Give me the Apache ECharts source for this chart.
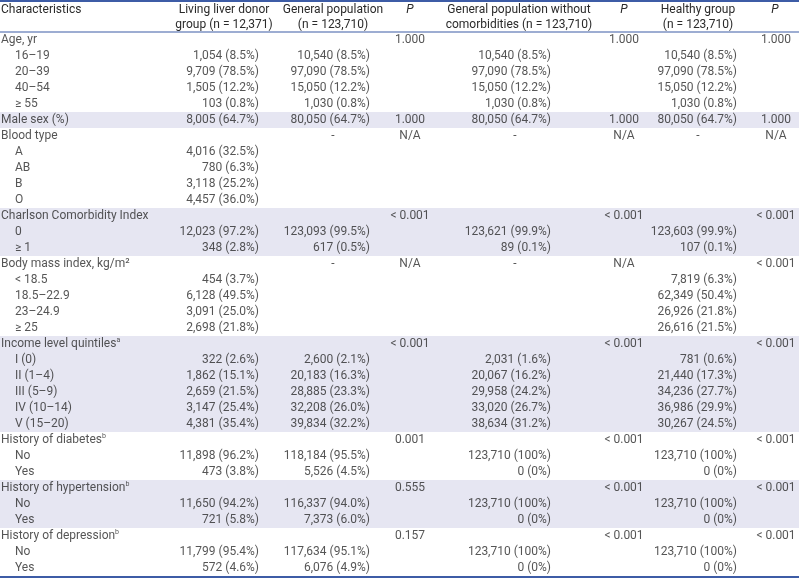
<!DOCTYPE html>
<html><head><meta charset="utf-8">
<script src="https://cdn.jsdelivr.net/npm/echarts@6/dist/echarts.min.js"></script>
<style>html,body{margin:0;padding:0;background:#fff}#c{width:799px;height:578px}</style>
</head><body><div id="c"></div>
<script>
// ---- data ----
const rowLabels = ['Age, yr','16–19','20–39','40–54','≥ 55','Male sex (%)','Blood type','A','AB','B','O',
  'Charlson Comorbidity Index','0','≥ 1','Body mass index, kg/m²','< 18.5','18.5–22.9','23–24.9','≥ 25',
  'Income level quintiles','I (0)','II (1–4)','III (5–9)','IV (10–14)','V (15–20)',
  'History of diabetes','No','Yes','History of hypertension','No','Yes','History of depression','No','Yes'];
const rowNotes = ['','','','','','','','','','','','','','','','','','','','a','','','','','','b','','','b','','','b','',''];
const rowLevel = [0,1,1,1,1,0,0,1,1,1,1,0,1,1,0,1,1,1,1,0,1,1,1,1,1,0,1,1,0,1,1,0,1,1];
const shadedGroups = [5,11,12,13,19,20,21,22,23,24,28,29,30];

const donor = ['','1,054 (8.5%)','9,709 (78.5%)','1,505 (12.2%)','103 (0.8%)','8,005 (64.7%)','','4,016 (32.5%)','780 (6.3%)','3,118 (25.2%)','4,457 (36.0%)',
  '','12,023 (97.2%)','348 (2.8%)','','454 (3.7%)','6,128 (49.5%)','3,091 (25.0%)','2,698 (21.8%)',
  '','322 (2.6%)','1,862 (15.1%)','2,659 (21.5%)','3,147 (25.4%)','4,381 (35.4%)',
  '','11,898 (96.2%)','473 (3.8%)','','11,650 (94.2%)','721 (5.8%)','','11,799 (95.4%)','572 (4.6%)'];
const general = ['','10,540 (8.5%)','97,090 (78.5%)','15,050 (12.2%)','1,030 (0.8%)','80,050 (64.7%)','-','','','','',
  '','123,093 (99.5%)','617 (0.5%)','-','','','','',
  '','2,600 (2.1%)','20,183 (16.3%)','28,885 (23.3%)','32,208 (26.0%)','39,834 (32.2%)',
  '','118,184 (95.5%)','5,526 (4.5%)','','116,337 (94.0%)','7,373 (6.0%)','','117,634 (95.1%)','6,076 (4.9%)'];
const pGeneral = ['1.000','','','','','1.000','N/A','','','','','< 0.001','','','N/A','','','','',
  '< 0.001','','','','','','0.001','','','0.555','','','0.157','',''];
const noComorb = ['','10,540 (8.5%)','97,090 (78.5%)','15,050 (12.2%)','1,030 (0.8%)','80,050 (64.7%)','-','','','','',
  '','123,621 (99.9%)','89 (0.1%)','-','','','','',
  '','2,031 (1.6%)','20,067 (16.2%)','29,958 (24.2%)','33,020 (26.7%)','38,634 (31.2%)',
  '','123,710 (100%)','0 (0%)','','123,710 (100%)','0 (0%)','','123,710 (100%)','0 (0%)'];
const pNoComorb = ['1.000','','','','','1.000','N/A','','','','','< 0.001','','','N/A','','','','',
  '< 0.001','','','','','','< 0.001','','','< 0.001','','','< 0.001','',''];
const healthy = ['','10,540 (8.5%)','97,090 (78.5%)','15,050 (12.2%)','1,030 (0.8%)','80,050 (64.7%)','-','','','','',
  '','123,603 (99.9%)','107 (0.1%)','','7,819 (6.3%)','62,349 (50.4%)','26,926 (21.8%)','26,616 (21.5%)',
  '','781 (0.6%)','21,440 (17.3%)','34,236 (27.7%)','36,986 (29.9%)','30,267 (24.5%)',
  '','123,710 (100%)','0 (0%)','','123,710 (100%)','0 (0%)','','123,710 (100%)','0 (0%)'];
const pHealthy = ['1.000','','','','','1.000','N/A','','','','','< 0.001','','','< 0.001','','','','',
  '< 0.001','','','','','','< 0.001','','','< 0.001','','','< 0.001','',''];

const headers = ['Characteristics','Living liver donor\ngroup (n = 12,371)','General population\n(n = 123,710)','P',
  'General population without\ncomorbidities (n = 123,710)','P','Healthy group\n(n = 123,710)','P'];

// ---- layout ----
const W = 799, H = 578;
const FONT = 'Roboto, "Noto Sans", sans-serif';
const FS = 12;
const TXT = '#2a2a2a';
const BLUE = '#3d5ca6';
const SHADE = '#e6e6f2';
const GRID_TOP = 32, GRID_BOTTOM = 576;

const cols = [
  {data: donor,   right: 259, center: 224},
  {data: general, right: 370, center: 333},
  {data: pGeneral, right: null, center: 410},
  {data: noComorb, right: 551, center: 515},
  {data: pNoComorb, right: null, center: 624},
  {data: healthy, right: 737, center: 698},
  {data: pHealthy, right: null, center: 776}
];
const headerX = [null, 224, 333, 410, 519, 624, 698, 775];

const cats = rowLabels.map((_, i) => String(i));
const series = [];

series.push({
  type: 'bar', barWidth: '100%', silent: true, z: 1,
  itemStyle: {color: SHADE},
  data: rowLabels.map((_, i) => shadedGroups.includes(i) ? W : '-')
});

const lbl = (pos) => ({
  show: true, position: pos, distance: 0,
  color: TXT, fontFamily: FONT, fontSize: FS,
  formatter: p => p.value[2]
});

series.push({
  type: 'scatter', symbolSize: 0, z: 5, silent: true,
  data: rowLabels.map((t, i) => [rowLevel[i] ? 15 : 1, i, t, rowNotes[i]]),
  label: {
    show: true, position: 'right', distance: 0,
    color: TXT, fontFamily: FONT, fontSize: FS,
    formatter: p => '{t|' + p.value[2] + '}' + (p.value[3] ? '{s|' + p.value[3] + '}' : ''),
    rich: {
      t: {fontFamily: FONT, fontSize: FS, color: TXT, lineHeight: 14},
      s: {fontFamily: FONT, fontSize: 7, color: TXT, lineHeight: 14, verticalAlign: 'top', padding: [0, 0, 6, 0]}
    }
  }
});

cols.forEach(c => {
  const rightPts = [], centerPts = [];
  c.data.forEach((t, i) => {
    if (!t) return;
    if (c.right !== null && t !== '-') rightPts.push([c.right, i, t]);
    else centerPts.push([c.center, i, t]);
  });
  if (rightPts.length) series.push({type: 'scatter', symbolSize: 0, z: 5, silent: true, data: rightPts, label: lbl('left')});
  if (centerPts.length) series.push({type: 'scatter', symbolSize: 0, z: 5, silent: true, data: centerPts, label: lbl('inside')});
});

const graphic = [];
headers.forEach((h, k) => {
  const isP = h === 'P';
  graphic.push({
    type: 'text', silent: true, z: 10,
    x: k === 0 ? 1 : headerX[k], y: h.includes('\n') ? 17 : 9.5,
    style: {
      text: h, fill: TXT, font: (isP ? 'italic ' : '') + FS + 'px ' + FONT,
      textAlign: k === 0 ? 'left' : 'center', textVerticalAlign: 'middle', lineHeight: 15
    }
  });
});
graphic.push({type: 'rect', silent: true, z: 10, shape: {x: 0, y: 0, width: W, height: 2}, style: {fill: BLUE}});
graphic.push({type: 'rect', silent: true, z: 10, shape: {x: 0, y: GRID_TOP - 0.5, width: W, height: 1}, style: {fill: BLUE}});
graphic.push({type: 'rect', silent: true, z: 10, shape: {x: 0, y: GRID_BOTTOM, width: W, height: 2}, style: {fill: BLUE}});

const chart = echarts.init(document.getElementById('c'), null, {renderer: 'canvas'});
chart.setOption({
  animation: false,
  backgroundColor: '#fff',
  grid: {left: 0, right: 0, top: GRID_TOP, bottom: H - GRID_BOTTOM},
  xAxis: {type: 'value', min: 0, max: W, show: false},
  yAxis: {type: 'category', data: cats, inverse: true, show: false},
  series: series,
  graphic: graphic
});
</script>
</body></html>
